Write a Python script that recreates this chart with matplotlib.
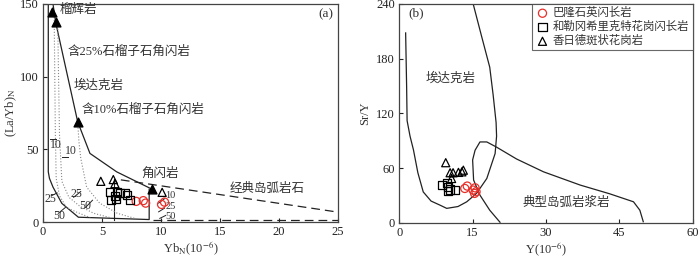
import matplotlib.pyplot as plt

plt.rcParams['font.family'] = ['Liberation Serif', 'Noto Sans CJK SC']
plt.rcParams['mathtext.fontset'] = 'stix'
plt.rcParams['axes.unicode_minus'] = False

# ---- panel (a) data: (La/Yb)N vs YbN ----
balong_yb = [7.9, 8.5, 8.7, 10.05, 10.3]
balong_layb = [14.2, 14.7, 13.0, 12.1, 13.7]
helegang_yb = [5.7, 5.8, 6.25, 6.5, 6.95, 7.15, 6.1, 7.4, 6.2]
helegang_layb = [20.6, 14.9, 20.6, 20.0, 19.9, 18.3, 17.6, 14.9, 16.0]
xiangride_yb = [4.9, 5.96, 6.1, 10.1]
xiangride_layb = [28.0, 29.2, 26.4, 20.4]

# source compositions (filled triangles)
src_yb = [0.74, 1.07, 2.94, 9.26]
src_layb = [144.5, 137.6, 69.0, 22.5]

# boundaries
outer_x = [0.45, 0.45, 0.55, 0.85, 1.6, 3.0, 9.0, 9.0]
outer_y = [150, 34.5, 30, 24, 12.8, 3.3, 1.7, 22.5]
upper_x = [0.85, 1.07, 2.94, 3.98, 6.25, 9.26]
upper_y = [150, 137.6, 69.0, 47.2, 34.5, 22.5]
arc_top_x = [6.6, 25]
arc_top_y = [29.0, 6.8]
arc_bot_x = [9.3, 25]
arc_bot_y = [1.5, 1.5]
bar_x = [6.0, 6.0]
bar_y = [1.7, 29.5]

melt1_x = [0.95, 1.0, 1.05, 1.12, 1.4, 2.0, 2.85, 4.0]
melt1_y = [141, 100, 60, 30, 18, 10, 6.8, 3.0]
melt2_x = [1.25, 1.32, 1.4, 1.6, 2.2, 3.1, 4.3, 5.7]
melt2_y = [137, 100, 60, 28, 17, 11, 6.0, 3.0]
melt3_x = [2.94, 3.05, 3.2, 3.7, 4.8, 6.3, 7.9]
melt3_y = [69, 55, 44, 24, 13, 6.0, 2.2]

# ---- panel (b) data: Sr/Y vs Y ----
balong_y = [13.4, 13.9, 15.1, 15.5, 15.4, 15.7]
balong_sry = [37.8, 40.4, 36.0, 38.5, 32.4, 34.2]
helegang_y = [8.7, 9.7, 10.0, 10.4, 11.4, 10.0]
helegang_sry = [41.5, 43.3, 35.3, 36.7, 36.4, 39.6]
xiangride_y = [9.5, 10.4, 11.0, 12.1, 12.8, 13.1, 10.7]
xiangride_sry = [66, 55, 55, 55.4, 56, 57.8, 48.7]

adakite_x = [1.3, 1.5, 1.6, 2.2, 2.9, 3.8, 4.9, 6.5, 8.3, 9.7, 12.0, 13.8, 15.8,
             17.9, 19.6, 19.9, 19.8, 19.2, 18.5, 16.8, 15.1]
adakite_y = [208, 150, 112, 95, 80, 55, 34, 24, 19.6, 16, 18, 23.2, 32.4,
             48.7, 76, 95, 110, 140, 170.5, 205, 240]
arcfield_x = [20.6, 18.5, 16.5, 15.2, 15.0, 15.5, 16.5, 17.9, 19.9, 24.0, 29.5,
              37.0, 43.0, 47.9, 49.2, 49.9]
arcfield_y = [0.8, 14, 30.5, 47, 69, 79.6, 88.7, 88.7, 83, 70, 56,
              41.5, 32, 23.2, 14, 1.4]

legend_labels = ['巴隆石英闪长岩', '和勒冈希里克特花岗闪长岩', '香日德斑状花岗岩']

line_c = '#222222'
text_c = '#333333'
red = '#e8302a'

fig = plt.figure(figsize=(7.0, 2.58), dpi=100)
axa = fig.add_axes([0.0614, 0.1395, 0.4214, 0.845])
axb = fig.add_axes([0.5704, 0.1357, 0.4191, 0.850])

for ax in (axa, axb):
    ax.tick_params(direction='in', length=3, width=0.8, labelsize=9,
                   top=False, right=False, pad=3, colors=line_c)
    for s in ax.spines.values():
        s.set_linewidth(0.9)
        s.set_color('#444444')

# ---------- panel (a) ----------
axa.plot(outer_x, outer_y, color=line_c, lw=0.9)
axa.plot(upper_x, upper_y, color=line_c, lw=0.9)
axa.plot(bar_x, bar_y, color=line_c, lw=0.8)
axa.plot(arc_top_x, arc_top_y, color=line_c, lw=0.9, ls=(0, (7, 4)))
axa.plot(arc_bot_x, arc_bot_y, color=line_c, lw=0.9, ls=(0, (7, 4)))
for mx, my in ((melt1_x, melt1_y), (melt2_x, melt2_y), (melt3_x, melt3_y)):
    axa.plot(mx, my, color='#888888', lw=0.8, ls=':')

# melt-fraction ticks and labels
ticks = [((0.6, 57), (1.1, 57)), ((1.6, 45), (2.1, 45)),
         ((0.7, 18), (1.2, 20)), ((2.6, 17), (3.2, 21)),
         ((1.3, 6), (1.9, 10)), ((3.6, 10), (4.2, 15)),
         ((9.8, 13), (10.3, 16)), ((9.8, 7), (10.3, 9.5)), ((9.9, 2.5), (10.4, 4.5))]
for (x1, y1), (x2, y2) in ticks:
    axa.plot([x1, x2], [y1, y2], color=line_c, lw=0.7)
for txt, x, y in (('10', 0.6, 53), ('10', 1.86, 49), ('25', 0.15, 15.5), ('25', 2.3, 19),
                  ('50', 0.87, 4), ('50', 3.05, 11)):
    axa.text(x, y, txt, fontsize=8.5, color=text_c, va='center', ha='left')
for txt, x, y in (('10', 10.35, 18.5), ('25', 10.35, 11), ('50', 10.35, 3.8)):
    axa.text(x, y, txt, fontsize=7.5, color=text_c, va='center', ha='left')

axa.scatter(src_yb, src_layb, marker='^', s=40, color='black', zorder=4)
axa.scatter(balong_yb, balong_layb, marker='o', s=34, facecolors='none',
            edgecolors=red, lw=0.9, zorder=5)
axa.scatter(helegang_yb, helegang_layb, marker='s', s=34, facecolors='none',
            edgecolors='black', lw=0.9, zorder=5)
axa.scatter(xiangride_yb, xiangride_layb, marker='^', s=34, facecolors='none',
            edgecolors='black', lw=0.9, zorder=5)

lab_kw = dict(fontsize=9, color=text_c, ha='left', va='center')
axa.text(1.4, 146, '榴辉岩', **lab_kw)
axa.text(2.05, 117, '含25%石榴子石角闪岩', **lab_kw)
axa.text(2.55, 94, '埃达克岩', **lab_kw)
axa.text(3.3, 77, '含10%石榴子石角闪岩', **lab_kw)
axa.text(8.35, 33, '角闪岩', **lab_kw)
axa.text(15.8, 23, '经典岛弧岩石', **lab_kw)
axa.text(24.6, 143, '(a)', fontsize=9.5, color=text_c, ha='right', va='center')

axa.set_xlim(0, 25)
axa.set_ylim(0, 150)
axa.set_xticks([0, 5, 10, 15, 20, 25])
axa.set_yticks([0, 50, 100, 150])
axa.set_xlabel('Yb$_{\\mathrm{N}}$(10$^{-6}$)', fontsize=9, color=text_c, labelpad=1)
axa.set_ylabel('(La/Yb)$_{\\mathrm{N}}$', fontsize=9, color=text_c, labelpad=1)

# ---------- panel (b) ----------
axb.plot(adakite_x, adakite_y, color=line_c, lw=0.9)
axb.plot(arcfield_x, arcfield_y, color=line_c, lw=0.9)
h1 = axb.scatter(balong_y, balong_sry, marker='o', s=34, facecolors='none',
                 edgecolors=red, lw=0.9, zorder=5)
h2 = axb.scatter(helegang_y, helegang_sry, marker='s', s=34, facecolors='none',
                 edgecolors='black', lw=0.9, zorder=5)
h3 = axb.scatter(xiangride_y, xiangride_sry, marker='^', s=34, facecolors='none',
                 edgecolors='black', lw=0.9, zorder=5)
axb.text(10.4, 158, '埃达克岩', fontsize=9, color=text_c, ha='center', va='center')
axb.text(34.1, 22, '典型岛弧岩浆岩', fontsize=9, color=text_c, ha='center', va='center')
axb.text(1.8, 229, '(b)', fontsize=9.5, color=text_c, ha='left', va='center')

leg = axb.legend([h1, h2, h3], legend_labels, loc='upper right', fontsize=8.2,
                 frameon=True, fancybox=False, borderpad=0.3, labelspacing=0.25,
                 handletextpad=0.3, handlelength=1.2, borderaxespad=0.0)
leg.get_frame().set_edgecolor('#444444')
leg.get_frame().set_linewidth(0.8)
for t in leg.get_texts():
    t.set_color(text_c)

axb.set_xlim(0, 60)
axb.set_ylim(0, 240)
axb.set_xticks([0, 15, 30, 45, 60])
axb.set_yticks([0, 60, 120, 180, 240])
axb.set_xlabel('Y(10$^{-6}$)', fontsize=9, color=text_c, labelpad=1)
axb.set_ylabel('Sr/Y', fontsize=9, color=text_c, labelpad=4)

fig.savefig('out.png', dpi=100)
